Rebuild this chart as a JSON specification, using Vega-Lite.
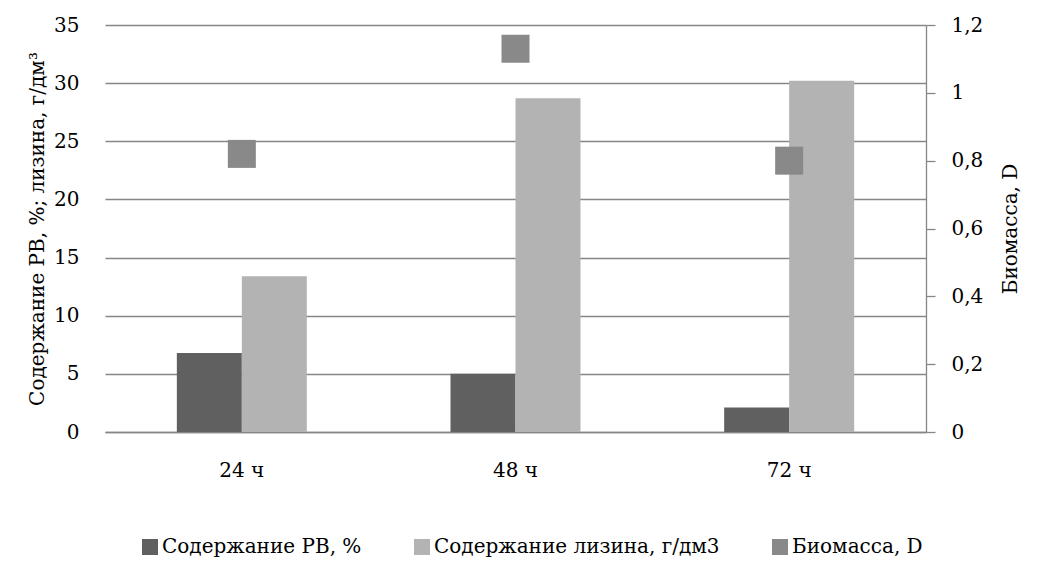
{
  "$schema": "https://vega.github.io/schema/vega-lite/v6.json",
  "autosize": {"type": "none"},
  "width": 821,
  "height": 407,
  "padding": {"left": 105, "top": 25, "right": 111, "bottom": 136},
  "background": "white",
  "config": {
    "font": "DejaVu Serif",
    "view": {"stroke": null},
    "axis": {"labelFont": "DejaVu Serif", "titleFont": "DejaVu Serif", "labelFontSize": 20, "titleFontSize": 20, "labelColor": "black", "titleColor": "black", "titleFontWeight": "normal"},
    "legend": {"labelFont": "DejaVu Serif", "labelFontSize": 20, "labelColor": "black", "labelLimit": 0}
  },
  "data": {
    "values": [
      {"t": "24 ч", "series": "Содержание РВ, %", "value": 6.8},
      {"t": "24 ч", "series": "Содержание лизина, г/дм3", "value": 13.4},
      {"t": "24 ч", "series": "Биомасса, D", "value": 0.82},
      {"t": "48 ч", "series": "Содержание РВ, %", "value": 5.0},
      {"t": "48 ч", "series": "Содержание лизина, г/дм3", "value": 28.7},
      {"t": "48 ч", "series": "Биомасса, D", "value": 1.13},
      {"t": "72 ч", "series": "Содержание РВ, %", "value": 2.1},
      {"t": "72 ч", "series": "Содержание лизина, г/дм3", "value": 30.2},
      {"t": "72 ч", "series": "Биомасса, D", "value": 0.80}
    ]
  },
  "encoding": {
    "x": {
      "field": "t", "type": "nominal", "sort": null,
      "scale": {"paddingInner": 0.525, "paddingOuter": 0.2625},
      "axis": {
        "title": null, "labelAngle": 0, "ticks": false, "domainColor": "#868686", "domainWidth": 1.5,
        "labelPadding": 28, "grid": false
      }
    },
    "color": {
      "field": "series", "type": "nominal",
      "scale": {
        "domain": ["Содержание РВ, %", "Содержание лизина, г/дм3", "Биомасса, D"],
        "range": ["#606060", "#b3b3b3", "#898989"]
      },
      "legend": {
        "title": null, "orient": "none", "direction": "horizontal",
        "legendX": 35, "legendY": 512,
        "symbolType": "square", "symbolSize": 256, "symbolStrokeWidth": 0,
        "labelOffset": 2, "columnPadding": 50, "padding": 0
      }
    }
  },
  "layer": [
    {
      "transform": [{"filter": "datum.series !== 'Биомасса, D'"}],
      "mark": {"type": "bar"},
      "encoding": {
        "xOffset": {"field": "series", "type": "nominal", "sort": ["Содержание РВ, %", "Содержание лизина, г/дм3"], "scale": {"paddingInner": 0, "paddingOuter": 0}},
        "y": {
          "field": "value", "type": "quantitative",
          "scale": {"domain": [0, 35], "nice": false},
          "axis": {
            "title": "Содержание РВ, %;  лизина, г/дм³",
            "values": [0, 5, 10, 15, 20, 25, 30, 35],
            "grid": true, "gridColor": "#868686", "gridWidth": 1.3,
            "domain": false, "ticks": false, "labelPadding": 26, "titlePadding": 6
          }
        }
      }
    },
    {
      "transform": [{"filter": "datum.series === 'Биомасса, D'"}],
      "mark": {"type": "point", "shape": "square", "filled": true, "size": 784, "opacity": 1},
      "encoding": {
        "y": {
          "field": "value", "type": "quantitative",
          "scale": {"domain": [0, 1.2], "nice": false},
          "axis": {
            "orient": "right", "title": "Биомасса, D", "titleAngle": 270,
            "values": [0, 0.2, 0.4, 0.6, 0.8, 1, 1.2],
            "labelExpr": "replace(format(datum.value, '.1~f'), '.', ',')",
            "grid": false, "domainColor": "#868686", "domainWidth": 1.3,
            "tickColor": "#868686", "tickWidth": 1.3, "tickSize": 9,
            "labelPadding": 16, "titlePadding": 38
          }
        }
      }
    }
  ],
  "resolve": {"scale": {"y": "independent"}}
}
